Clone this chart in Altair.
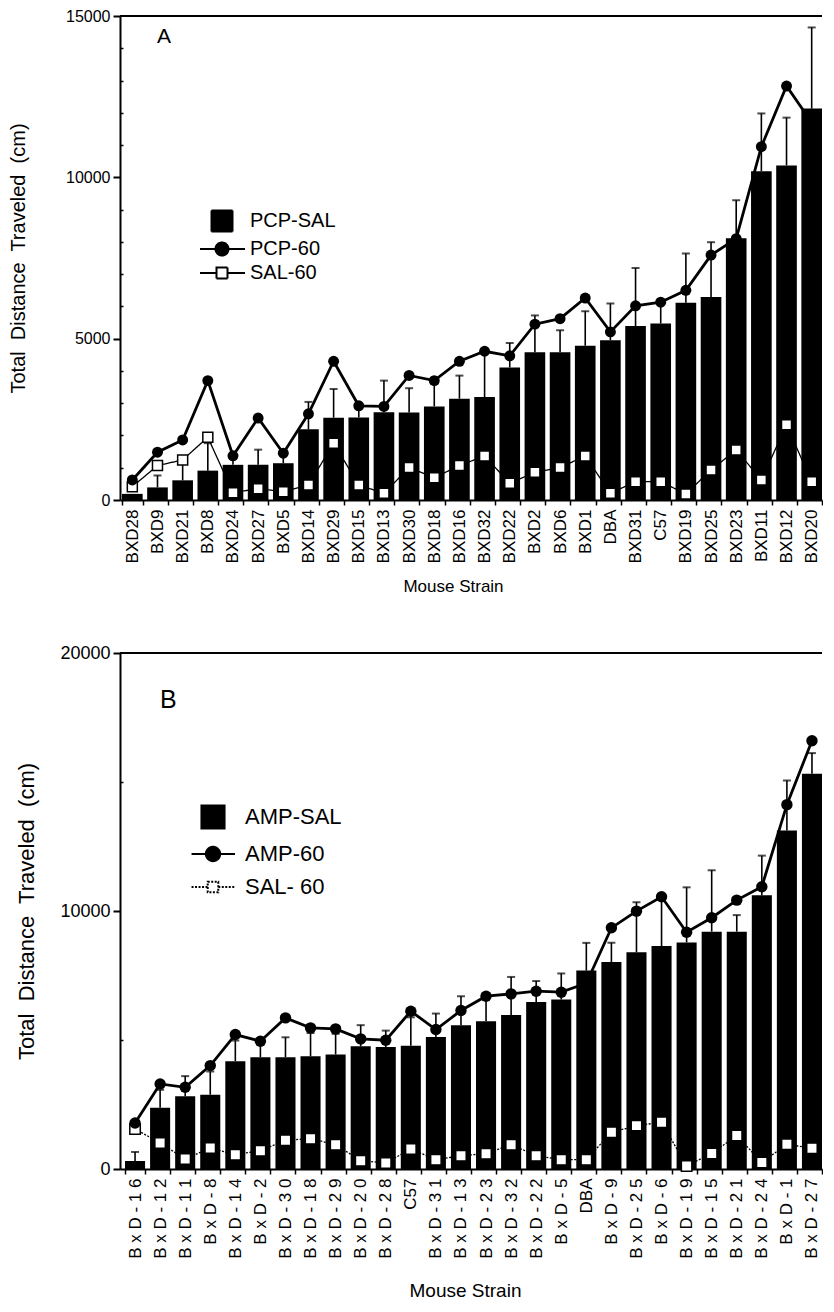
import altair as alt
import pandas as pd

FONT = "Liberation Sans"

# ---------------- Panel A data (PCP) ----------------
strains_a = ["BXD28", "BXD9", "BXD21", "BXD8", "BXD24", "BXD27", "BXD5", "BXD14", "BXD29",
             "BXD15", "BXD13", "BXD30", "BXD18", "BXD16", "BXD32", "BXD22", "BXD2", "BXD6",
             "BXD1", "DBA", "BXD31", "C57", "BXD19", "BXD25", "BXD23", "BXD11", "BXD12", "BXD20"]
pcp_sal = [190, 390, 610, 910, 1090, 1090, 1140, 2190, 2550, 2560, 2720, 2710, 2900, 3140,
           3190, 4110, 4580, 4580, 4780, 4950, 5390, 5470, 6110, 6290, 8110, 10190, 10370, 12130]
pcp_sal_err = [0, 370, 530, 850, 250, 470, 250, 850, 890, 300, 980, 755, 700, 715,
               1350, 755, 1140, 680, 1070, 1140, 1800, 600, 1530, 1700, 1180, 1790, 1480, 2515]
pcp_60 = [620, 1480, 1860, 3700, 1370, 2540, 1450, 2670, 4300, 2920, 2900, 3860, 3700, 4300,
          4610, 4470, 5450, 5620, 6260, 5210, 6020, 6130, 6500, 7590, 8100, 10950, 12830, 11700]
sal_60_a = [414, 1066, 1242, 1946, 228, 352, 259, 466, 1760, 466, 207, 1004, 693, 1066,
            1366, 518, 859, 1004, 1366, 207, 569, 569, 186, 932, 1552, 621, 2329, 569]
series_a = ["PCP-SAL", "PCP-60", "SAL-60"]

# ---------------- Panel B data (AMP) ----------------
strains_b = ["BxD-16", "BxD-12", "BxD-11", "BxD-8", "BxD-14", "BxD-2", "BxD-30", "BxD-18",
             "BxD-29", "BxD-20", "BxD-28", "C57", "BxD-31", "BxD-13", "BxD-23", "BxD-32",
             "BxD-22", "BxD-5", "DBA", "BxD-9", "BxD-25", "BxD-6", "BxD-19", "BxD-15",
             "BxD-21", "BxD-24", "BxD-1", "BxD-27"]
amp_sal = [310, 2370, 2820, 2880, 4180, 4330, 4330, 4370, 4440, 4760, 4730, 4780, 5120, 5570,
           5730, 5970, 6470, 6570, 7690, 8020, 8400, 8640, 8780, 9200, 9200, 10610, 13120, 15320]
amp_sal_err = [350, 700, 780, 900, 800, 500, 775, 900, 800, 815, 634, 1100, 905, 1125,
               900, 1474, 815, 1009, 1074, 750, 1940, 1800, 2137, 2378, 641, 1536, 1938, 800]
amp_60 = [1784, 3297, 3168, 4008, 5211, 4952, 5857, 5470, 5431, 5043, 4991, 6116, 5405, 6142,
          6698, 6788, 6892, 6853, 7200, 9348, 9995, 10550, 9178, 9739, 10421, 10942, 14122, 16600]
sal_60_b = [1552, 1008, 388, 815, 556, 711, 1112, 1177, 944, 323, 233, 776, 362, 517,
            595, 944, 517, 362, 362, 1422, 1681, 1810, 120, 601, 1296, 254, 962, 800]
series_b = ["AMP-SAL", "AMP-60", "SAL- 60"]

Y_TITLE = "Total\u00a0 Distance\u00a0 Traveled\u00a0 (cm)"


def panel(letter, key, strains, bars, errs, drug, sal, names, cfg):
    df = pd.DataFrame({"strain": strains, "bar": bars, "err": errs, "drug": drug, "sal": sal})
    df["top"] = df["bar"] + df["err"]
    base = alt.Chart(df)

    x_enc = alt.X(
        "strain:N", sort=strains,
        scale=alt.Scale(paddingInner=cfg["pin"], paddingOuter=cfg["pout"], align=1),
        axis=alt.Axis(
            labelAngle=270, labelFontSize=cfg["xlab"], labelPadding=4,
            labelExpr=cfg["labelExpr"],
            tickSize=5, tickWidth=1.5, tickBand="extent", domainWidth=2,
            title="Mouse Strain", titleFontSize=cfg["xtitle"], titleFontWeight="normal",
            titleX=cfg["xtx"], titleY=cfg["xty"], titleBaseline="middle", labelLimit=200,
        ),
    )

    yscale = alt.Scale(domain=[0, cfg["ymax"]], nice=False)
    major_axis = alt.Axis(
        orient="left", values=cfg["major"], format="d", grid=False,
        tickSize=7, tickWidth=2, domainWidth=2,
        labelFontSize=cfg["ylab"], labelPadding=3,
        title=Y_TITLE, titleFontSize=cfg["ytitle"], titleFontWeight="normal",
        titleAngle=270, titleX=cfg["ytx"], titleY=cfg["height"] / 2, titleBaseline="middle",
    )
    minor_axis = alt.Axis(
        orient="left", values=cfg["minor"], grid=False, labels=False, domain=False,
        tickSize=3, tickWidth=1.5, offset=-3,
        title="\u00a0", titleFontSize=1, titleOpacity=0, titleAngle=270,
        titleX=cfg["extent"], titleY=cfg["height"] / 2, titleBaseline="middle",
    )

    bar_layer = base.mark_bar(color="black").encode(
        x=x_enc, y=alt.Y("bar:Q", scale=yscale, axis=major_axis))
    err_layer = base.transform_filter("datum.err > 0").mark_rule(
        color="black", strokeWidth=1.6).encode(
        x=x_enc, y=alt.Y("bar:Q", scale=yscale, axis=None), y2="top:Q")
    cap_layer = base.transform_filter("datum.err > 0").mark_tick(
        color="black", thickness=2, size=8, orient="horizontal").encode(
        x=x_enc, y=alt.Y("top:Q", scale=yscale, axis=None))
    sal_line = base.mark_line(color="black", strokeWidth=1.3,
                              strokeDash=cfg["saldash"]).encode(
        x=x_enc, y=alt.Y("sal:Q", scale=yscale, axis=minor_axis))
    sal_pts = base.mark_point(shape="square", filled=True, fill="white", stroke="black",
                              strokeWidth=1.5, size=cfg["sqsize"], opacity=1).encode(
        x=x_enc, y=alt.Y("sal:Q", scale=yscale, axis=None))
    drug_line = base.mark_line(color="black", strokeWidth=2.8).encode(
        x=x_enc, y=alt.Y("drug:Q", scale=yscale, axis=None))
    drug_pts = base.mark_circle(color="black", size=cfg["circsize"], opacity=1).encode(
        x=x_enc, y=alt.Y("drug:Q", scale=yscale, axis=None))

    # top edge of the plot frame (right edge runs off the page, as in the original)
    frame_top = alt.Chart(pd.DataFrame({"edge": ["top"]})).mark_rule(
        color="black", strokeWidth=2).encode(
        x=alt.value(0), x2=alt.value(cfg["width"]), y=alt.value(0))

    u = cfg["unit"]
    sq = "M-1.05,-1.05H1.05V1.05H-1.05Z"
    r = cfg["cr"]
    lx0, lx1 = cfg["lx"]
    circ = f"M{lx0},0H{lx1}M{-r},0A{r},{r},0,1,0,{r},0A{r},{r},0,1,0,{-r},0Z"
    s = cfg["ss"]
    salsym = f"M{lx0},0H{-s}M{s},0H{lx1}M{-s},{-s}H{s}V{s}H{-s}Z"
    leg = alt.Legend(
        orient="none", legendX=cfg["legx"], legendY=cfg["legy"], title=None,
        labelFont=FONT, labelFontSize=cfg["legfont"], labelColor="black",
        symbolSize=(2 * u) ** 2, symbolStrokeWidth=2, labelOffset=cfg["laboff"],
        rowPadding=cfg["rowpad"], padding=0, labelLimit=300,
    )
    field = f"series_{key}:N"
    leg_df = pd.DataFrame({f"series_{key}": names})
    legend_layer = alt.Chart(leg_df).transform_filter("false").mark_point(
        filled=True, opacity=1).encode(
        shape=alt.Shape(field, scale=alt.Scale(domain=names, range=[sq, circ, salsym]),
                        legend=leg),
        fill=alt.Fill(field, scale=alt.Scale(domain=names,
                                             range=["black", "black", "white"]),
                      legend=leg),
        stroke=alt.Stroke(field, scale=alt.Scale(domain=names,
                                                 range=["black", "black", "black"]),
                          legend=leg),
        strokeDash=alt.StrokeDash(field, scale=alt.Scale(domain=names,
                                                         range=cfg["legdash"]),
                                  legend=leg),
    )
    letter_layer = alt.Chart(pd.DataFrame({"letter": [letter]})).mark_text(
        align="left", baseline="alphabetic", font=FONT, fontSize=cfg["letterfont"],
        color="black").encode(
        text="letter:N", x=alt.value(cfg["ldx"]), y=alt.value(cfg["ldy"]))

    layered = alt.layer(
        bar_layer, err_layer, cap_layer, sal_line, sal_pts, drug_line, drug_pts,
        frame_top, legend_layer, letter_layer
    ).resolve_axis(y="independent").properties(
        width=cfg["width"], height=cfg["height"],
    )
    return layered


cfg_a = dict(pin=0.18, pout=0.04, xlab=17, xtitle=17, xtx=333, xty=86,
             labelExpr="datum.label",
             ymax=15000, major=[0, 5000, 10000, 15000],
             minor=[1000, 2000, 3000, 4000, 6000, 7000, 8000, 9000, 11000, 12000, 13000, 14000],
             ylab=16, ytitle=20, ytx=-102, extent=-114, height=484, width=702,
             saldash=[1, 0], sqsize=100, circsize=120,
             unit=10, cr=0.65, lx=(-2.2, 2.3), ss=0.55,
             legx=91, legy=194, legfont=20, laboff=17, rowpad=2,
             legdash=[[1, 0], [1, 0], [1, 0]],
             letterfont=21, ldx=37, ldy=27)
cfg_b = dict(pin=0.2, pout=0.1, xlab=17, xtitle=19, xtx=345, xty=121,
             labelExpr="indexof(datum.label, 'BxD') >= 0 ? replace(datum.label, regexp('(.)(?!$)', 'g'), '$1 ') : datum.label",
             ymax=20000, major=[0, 10000, 20000],
             minor=[5000, 15000],
             ylab=18, ytitle=22, ytx=-94, extent=-114, height=516, width=702,
             saldash=[2, 1.5], sqsize=110, circsize=130,
             unit=11, cr=0.65, lx=(-1.95, 2.0), ss=0.48,
             legx=81, legy=152, legfont=22, laboff=20, rowpad=9,
             legdash=[[1, 0], [1, 0], [2, 1.5]],
             letterfont=25, ldx=40, ldy=55)

chart_a = panel("A", "a", strains_a, pcp_sal, pcp_sal_err, pcp_60, sal_60_a, series_a, cfg_a)
chart_b = panel("B", "b", strains_b, amp_sal, amp_sal_err, amp_60, sal_60_b, series_b, cfg_b)

chart = alt.concat(chart_a, chart_b, columns=1, spacing=50).resolve_scale(
    shape="independent", fill="independent", stroke="independent", strokeDash="independent"
).resolve_legend(
    shape="independent", fill="independent", stroke="independent", strokeDash="independent"
).properties(
    padding=0, background="white"
).configure_view(
    strokeWidth=0
).configure_axis(
    labelFont=FONT, titleFont=FONT, labelColor="black", titleColor="black",
    domainColor="black", tickColor="black"
).configure_legend(
    labelFont=FONT
)

chart.save("out.html", embed_options={"renderer": "svg", "actions": False})
